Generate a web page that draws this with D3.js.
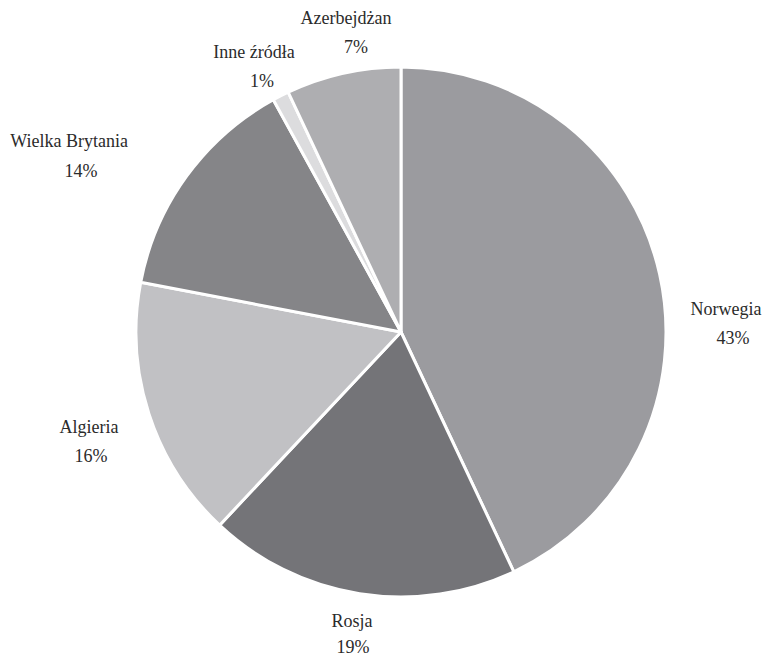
<!DOCTYPE html>
<html>
<head>
<meta charset="utf-8">
<script src="https://cdn.jsdelivr.net/npm/d3@7"></script>
<style>
  html, body { margin: 0; padding: 0; background: #fff; }
</style>
</head>
<body>
<svg id="chart" width="765" height="658"></svg>
<script>
// Gas supply sources, shares in percent (clockwise from 12 o'clock)
const sources = ["Norwegia", "Rosja", "Algieria", "Wielka Brytania", "Inne źródła", "Azerbejdżan"];
const shares = [43, 19, 16, 14, 1, 7];
const fills = ["#9b9b9f", "#747478", "#c1c1c4", "#858588", "#dcdcde", "#aeaeb1"];

// label baselines relative to the pie centre: [nameX, nameY, pctX, pctY]
const labelSpots = [
  [325, -17, 332, 12],
  [-49, 295, -48, 321],
  [-312, 101, -310, 130],
  [-332, -185, -320, -155],
  [-147, -274, -139, -245],
  [-55, -308, -45, -279]
];

const svg = d3.select("#chart");
const cx = 401, cy = 332, radius = 265;

const pie = d3.pie().sort(null).value(d => d);
const arc = d3.arc().innerRadius(0).outerRadius(radius);
const arcs = pie(shares);

const g = svg.append("g").attr("transform", `translate(${cx},${cy})`);

g.selectAll("path")
  .data(arcs)
  .join("path")
  .attr("d", arc)
  .attr("fill", (d, i) => fills[i])
  .attr("stroke", "#fff")
  .attr("stroke-width", 3)
  .attr("stroke-linejoin", "round");

const textStyle = sel => sel
  .attr("text-anchor", "middle")
  .style("font-family", "'Liberation Serif', 'DejaVu Serif', serif")
  .style("font-size", "18px")
  .style("fill", "#2b2b2b");

g.selectAll("text.name")
  .data(arcs)
  .join("text")
  .attr("class", "name")
  .call(textStyle)
  .attr("x", (d, i) => labelSpots[i][0])
  .attr("y", (d, i) => labelSpots[i][1])
  .text((d, i) => sources[i]);

g.selectAll("text.pct")
  .data(arcs)
  .join("text")
  .attr("class", "pct")
  .call(textStyle)
  .attr("x", (d, i) => labelSpots[i][2])
  .attr("y", (d, i) => labelSpots[i][3])
  .text(d => d.data + "%");
</script>
</body>
</html>
